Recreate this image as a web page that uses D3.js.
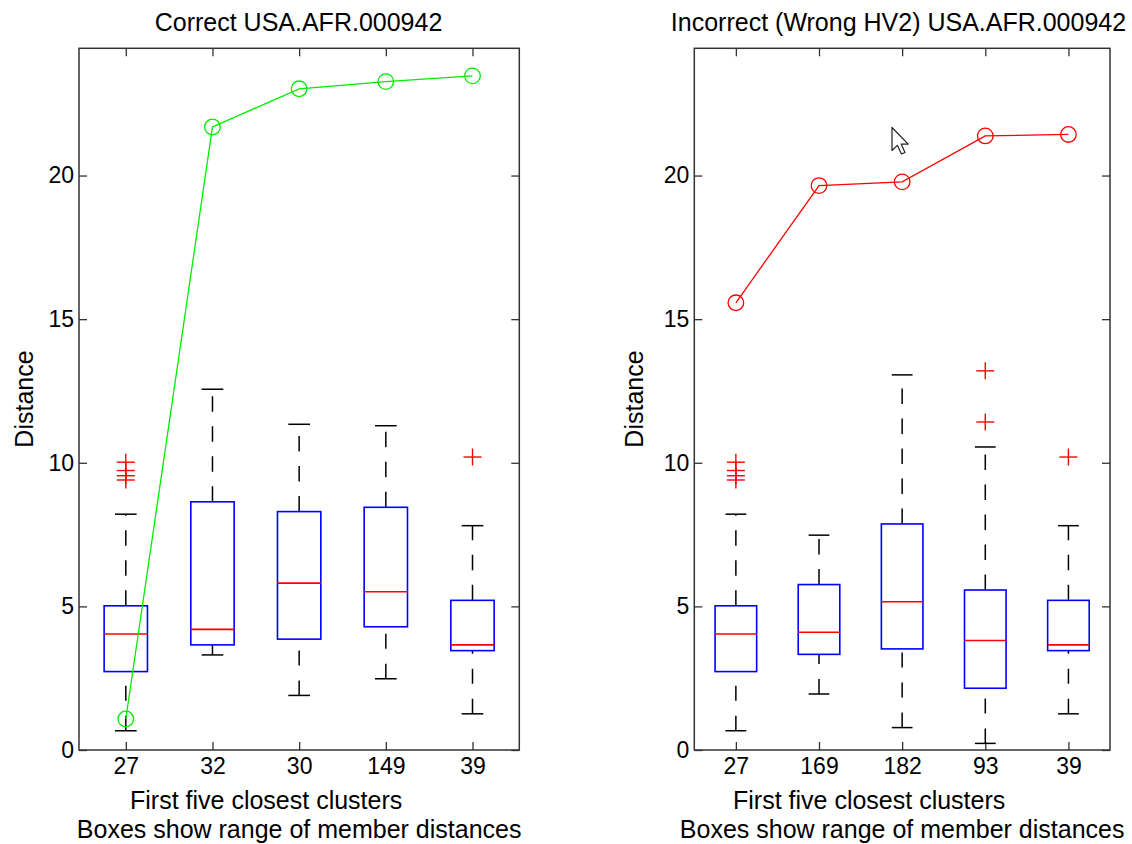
<!DOCTYPE html>
<html>
<head>
<meta charset="utf-8">
<script src="https://cdn.jsdelivr.net/npm/d3@7"></script>
<style>
  body { margin: 0; background: #fff; }
  text { font-family: "Liberation Sans", Arial, sans-serif; fill: #000; }
</style>
</head>
<body>
<div id="chart"></div>
<script>
// values
var yTicks = [0, 5, 10, 15, 20];

var leftClusters = ["27", "32", "30", "149", "39"];
var leftLo  = [0.67, 3.31, 1.90, 2.48, 1.26];
var leftQ1  = [2.73, 3.66, 3.86, 4.29, 3.46];
var leftMed = [4.04, 4.20, 5.81, 5.51, 3.66];
var leftQ3  = [5.02, 8.64, 8.30, 8.45, 5.21];
var leftHi  = [8.21, 12.56, 11.34, 11.29, 7.81];
var leftOut = [[10.02, 9.73, 9.55, 9.40], [], [], [], [10.20]];
var leftDist = [1.08, 21.69, 23.02, 23.27, 23.47];

var rightClusters = ["27", "169", "182", "93", "39"];
var rightLo  = [0.67, 1.95, 0.78, 0.23, 1.26];
var rightQ1  = [2.73, 3.33, 3.52, 2.15, 3.46];
var rightMed = [4.04, 4.10, 5.16, 3.81, 3.66];
var rightQ3  = [5.02, 5.76, 7.87, 5.57, 5.21];
var rightHi  = [8.21, 7.48, 13.06, 10.55, 7.81];
var rightOut = [[10.02, 9.73, 9.55, 9.40], [], [], [13.20, 11.42], [10.20]];
var rightDist = [15.57, 19.65, 19.78, 21.38, 21.43];

var width = 1132, height = 844;
var axisColor = "#333";

var svg = d3.select("#chart").append("svg")
    .attr("width", width)
    .attr("height", height);

svg.append("rect").attr("width", width).attr("height", height).attr("fill", "#fff");

function panel(opt) {
    var x = d3.scaleLinear().domain(opt.xdom).range([opt.left, opt.right]);
    var y = d3.scaleLinear().domain([0, 24.43]).range([750, 48.3]);
    var g = svg.append("g");
    var n = opt.clusters.length;
    var idx = d3.range(n);
    var boxW = 0.25, capW = 0.125;

    // axes (ticks point inward, mirrored on all four sides)
    var ax = g.append("g").attr("transform", "translate(" + opt.left + ",0)")
        .call(d3.axisLeft(y).tickValues(yTicks).tickSize(-8).tickPadding(5).tickFormat(d3.format("d")));
    var ax2 = g.append("g").attr("transform", "translate(" + opt.right + ",0)")
        .call(d3.axisRight(y).tickValues(yTicks).tickSize(-8).tickFormat(""));
    var ax3 = g.append("g").attr("transform", "translate(0,750)")
        .call(d3.axisBottom(x).tickValues(idx.map(function(i) { return i + 1; })).tickSize(-8).tickPadding(8)
            .tickFormat(function(d) { return opt.clusters[d - 1]; }));
    var ax4 = g.append("g").attr("transform", "translate(0,48.3)")
        .call(d3.axisTop(x).tickValues(idx.map(function(i) { return i + 1; })).tickSize(-8).tickFormat(""));
    [ax, ax2, ax3, ax4].forEach(function(a) {
        a.select(".domain").remove();
        a.selectAll("line").attr("stroke", axisColor).attr("stroke-width", 1.3);
        a.selectAll("text").style("font-size", "23px").style("font-family", "Liberation Sans, Arial, sans-serif").attr("fill", "#000");
    });
    ax3.selectAll("text").attr("dy", "0.71em");

    g.append("rect")
        .attr("x", opt.left).attr("y", y(24.43))
        .attr("width", opt.right - opt.left).attr("height", y(0) - y(24.43))
        .attr("fill", "none").attr("stroke", axisColor).attr("stroke-width", 1.5);

    // whiskers, drawn from low value to high value
    var wh = g.append("g").attr("stroke", "#000").attr("stroke-width", 1.5);
    idx.forEach(function(i) {
        var cx = x(i + 1);
        wh.append("line").attr("x1", cx).attr("x2", cx)
            .attr("y1", y(opt.q3[i])).attr("y2", y(opt.hi[i]))
            .attr("stroke-dasharray", "15.5,14.5");
        wh.append("line").attr("x1", cx).attr("x2", cx)
            .attr("y1", y(opt.lo[i])).attr("y2", y(opt.q1[i]))
            .attr("stroke-dasharray", "15,15");
        wh.append("line").attr("x1", x(i + 1 - capW)).attr("x2", x(i + 1 + capW))
            .attr("y1", y(opt.hi[i])).attr("y2", y(opt.hi[i]));
        wh.append("line").attr("x1", x(i + 1 - capW)).attr("x2", x(i + 1 + capW))
            .attr("y1", y(opt.lo[i])).attr("y2", y(opt.lo[i]));
    });

    g.selectAll(".box").data(idx).enter().append("rect")
        .attr("x", function(i) { return x(i + 1 - boxW); })
        .attr("width", function(i) { return x(i + 1 + boxW) - x(i + 1 - boxW); })
        .attr("y", function(i) { return y(opt.q3[i]); })
        .attr("height", function(i) { return y(opt.q1[i]) - y(opt.q3[i]); })
        .attr("fill", "none").attr("stroke", "#0000ff").attr("stroke-width", 1.6);

    g.selectAll(".med").data(idx).enter().append("line")
        .attr("x1", function(i) { return x(i + 1 - boxW); })
        .attr("x2", function(i) { return x(i + 1 + boxW); })
        .attr("y1", function(i) { return y(opt.med[i]); })
        .attr("y2", function(i) { return y(opt.med[i]); })
        .attr("stroke", "#ff0000").attr("stroke-width", 1.6);

    // outliers as red plus signs
    var outs = [];
    opt.out.forEach(function(arr, i) { arr.forEach(function(v) { outs.push([i + 1, v]); }); });
    var pl = g.append("g").attr("stroke", "#ff0000").attr("stroke-width", 1.4);
    outs.forEach(function(d) {
        var px = x(d[0]), py = y(d[1]);
        pl.append("line").attr("x1", px - 9).attr("x2", px + 9).attr("y1", py).attr("y2", py);
        pl.append("line").attr("x1", px).attr("x2", px).attr("y1", py - 8.5).attr("y2", py + 8.5);
    });

    // distance to each cluster centre
    var line = d3.line().x(function(d, i) { return x(i + 1); }).y(function(d) { return y(d); });
    g.append("path").datum(opt.dist).attr("d", line)
        .attr("fill", "none").attr("stroke", opt.color).attr("stroke-width", 1.3);
    g.selectAll(".pt").data(opt.dist).enter().append("circle")
        .attr("cx", function(d, i) { return x(i + 1); })
        .attr("cy", function(d) { return y(d); })
        .attr("r", 7.8)
        .attr("fill", "none").attr("stroke", opt.color).attr("stroke-width", 1.3);

    var cxm = (opt.left + opt.right) / 2;
    g.append("text").attr("x", opt.titleX).attr("y", 30.5).attr("text-anchor", "middle")
        .style("font-size", "25px").text(opt.title);
    g.append("text").attr("x", cxm - 33).attr("y", 809).attr("text-anchor", "middle")
        .style("font-size", "25px").text("First five closest clusters");
    g.append("text").attr("x", cxm).attr("y", 838).attr("text-anchor", "middle")
        .style("font-size", "25px").text("Boxes show range of member distances");
    g.append("text").attr("transform", "translate(" + opt.ylabX + ",399) rotate(-90)")
        .attr("text-anchor", "middle").style("font-size", "25px").text("Distance");
}

panel({
    left: 79, right: 519.3, xdom: [0.46, 5.54],
    clusters: leftClusters, lo: leftLo, q1: leftQ1, med: leftMed, q3: leftQ3, hi: leftHi,
    out: leftOut, dist: leftDist, color: "#00ee00",
    title: "Correct USA.AFR.000942", titleX: 298.5, ylabX: 33
});

panel({
    left: 694.3, right: 1110, xdom: [0.5, 5.5],
    clusters: rightClusters, lo: rightLo, q1: rightQ1, med: rightMed, q3: rightQ3, hi: rightHi,
    out: rightOut, dist: rightDist, color: "#ff0000",
    title: "Incorrect (Wrong HV2) USA.AFR.000942", titleX: 898.5, ylabX: 642.5
});

// mouse pointer captured in the screenshot
svg.append("path")
    .attr("d", "M0,0 L0,17 L4,13.2 L7,19.6 L9.6,18.5 L6.8,12.3 L12,12.3 Z")
    .attr("transform", "translate(892,127.5) scale(1.35)")
    .attr("fill", "#fff").attr("stroke", "#222").attr("stroke-width", 0.9)
    .attr("stroke-linejoin", "round");
</script>
</body>
</html>
